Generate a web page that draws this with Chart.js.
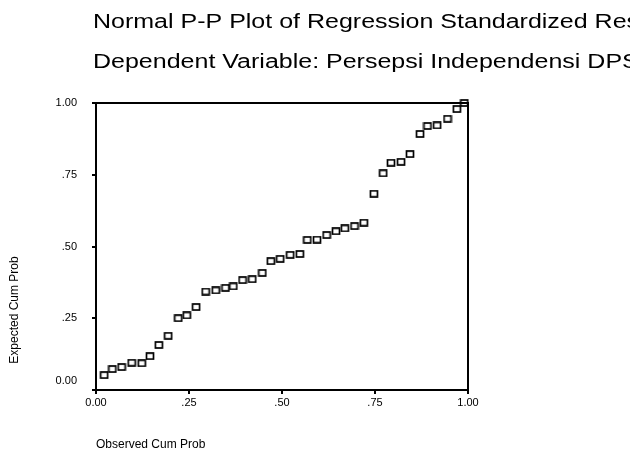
<!DOCTYPE html>
<html>
<head>
<meta charset="utf-8">
<script src="https://cdn.jsdelivr.net/npm/chart.js@4/dist/chart.umd.min.js"></script>
<style>
  html, body { margin: 0; padding: 0; background: #fff; }
  #wrap { width: 630px; height: 455px; position: relative; }
</style>
</head>
<body>
<div id="wrap"><canvas id="c" width="630" height="455"></canvas></div>
<script>
// ---- Data ----
const titleLines = [
  "Normal P-P Plot of Regression Standardized Residual",
  "Dependent Variable: Persepsi Independensi DPS"
];
const xAxisTitle = "Observed Cum Prob";
const yAxisTitle = "Expected Cum Prob";
const tickValues = [0, 0.25, 0.5, 0.75, 1];
const tickLabels = ["0.00", ".25", ".50", ".75", "1.00"];

const observedCumProb = [
  0.022, 0.044, 0.069, 0.096, 0.123, 0.145, 0.169, 0.194, 0.221, 0.244,
  0.269, 0.295, 0.322, 0.348, 0.369, 0.394, 0.420, 0.447, 0.470, 0.495,
  0.522, 0.548, 0.568, 0.594, 0.620, 0.645, 0.669, 0.695, 0.720, 0.747,
  0.772, 0.793, 0.820, 0.844, 0.871, 0.891, 0.917, 0.945, 0.970, 0.990
];
const expectedCumProb = [
  0.052, 0.073, 0.080, 0.095, 0.093, 0.118, 0.157, 0.189, 0.250, 0.260,
  0.289, 0.343, 0.347, 0.356, 0.361, 0.383, 0.386, 0.408, 0.449, 0.457,
  0.471, 0.474, 0.523, 0.524, 0.540, 0.553, 0.563, 0.571, 0.583, 0.684,
  0.755, 0.792, 0.795, 0.822, 0.892, 0.920, 0.922, 0.945, 0.979, 1.000
];

// ---- Hollow rectangle marker ----
function makeMarker() {
  const m = document.createElement('canvas');
  m.width = 10; m.height = 8;
  const g = m.getContext('2d');
  g.strokeStyle = '#000';
  g.lineWidth = 1.7;
  g.strokeRect(1.5, 1, 7, 6);
  return m;
}
const marker = makeMarker();

const points = observedCumProb.map((x, i) => ({ x: x, y: expectedCumProb[i] }));

const FONT = '"Liberation Sans", Arial, Helvetica, sans-serif';

const textPlugin = {
  id: 'texts',
  afterDraw(chart) {
    const ctx = chart.ctx;
    const a = chart.chartArea;
    ctx.save();
    // frame around plot area
    ctx.strokeStyle = '#000';
    ctx.lineWidth = 2;
    ctx.strokeRect(a.left, a.top, a.right - a.left, a.bottom - a.top);
    ctx.fillStyle = '#000';
    // titles (wide scanned font -> horizontally stretched)
    ctx.font = '20px ' + FONT;
    ctx.textAlign = 'left';
    ctx.textBaseline = 'alphabetic';
    const tys = [28, 68];
    titleLines.forEach((t, i) => {
      ctx.save();
      ctx.translate(93, tys[i]);
      ctx.scale(1.25, 1);
      ctx.fillText(t, 0, 0);
      ctx.restore();
    });
    // y-axis "0.00" label, lifted above the axis as in the reference
    ctx.font = '11px ' + FONT;
    ctx.textAlign = 'right';
    ctx.textBaseline = 'middle';
    ctx.fillText(tickLabels[0], a.left - 19, a.bottom - 9);
    // x axis title
    ctx.font = '12px ' + FONT;
    ctx.textAlign = 'left';
    ctx.textBaseline = 'alphabetic';
    ctx.fillText(xAxisTitle, 96, 448);
    // y axis title
    ctx.save();
    ctx.translate(18, 310);
    ctx.rotate(-Math.PI / 2);
    ctx.textAlign = 'center';
    ctx.fillText(yAxisTitle, 0, 0);
    ctx.restore();
    ctx.restore();
  }
};

function fmtX(v) {
  const i = tickValues.findIndex(t => Math.abs(t - v) < 1e-9);
  return i >= 0 ? tickLabels[i] : '';
}
function fmtY(v) {
  const i = tickValues.findIndex(t => Math.abs(t - v) < 1e-9);
  return i > 0 ? tickLabels[i] : '';
}

new Chart(document.getElementById('c'), {
  type: 'scatter',
  data: {
    datasets: [{
      data: points,
      pointStyle: marker,
      pointRadius: 4,
      pointHoverRadius: 4,
      clip: false
    }]
  },
  options: {
    responsive: false,
    animation: false,
    events: [],
    layout: { padding: { top: 103, right: 162, bottom: 0, left: 0 } },
    plugins: { legend: { display: false }, tooltip: { enabled: false }, title: { display: false } },
    scales: {
      x: {
        type: 'linear', min: 0, max: 1,
        afterBuildTicks(scale) { scale.ticks = tickValues.map(v => ({ value: v })); },
        afterFit(scale) { scale.height = 65; },
        ticks: { callback: fmtX, color: '#000', font: { family: FONT, size: 11 }, padding: 2, maxRotation: 0, autoSkip: false },
        grid: { drawOnChartArea: false, drawTicks: true, tickLength: 4, color: '#000', lineWidth: 2 },
        border: { display: true, color: '#000', width: 2 }
      },
      y: {
        type: 'linear', min: 0, max: 1,
        afterBuildTicks(scale) { scale.ticks = tickValues.map(v => ({ value: v })); },
        afterFit(scale) { scale.width = 96; },
        ticks: { callback: fmtY, color: '#000', font: { family: FONT, size: 11 }, padding: 15, autoSkip: false },
        grid: { drawOnChartArea: false, drawTicks: true, tickLength: 4, color: '#000', lineWidth: 2 },
        border: { display: true, color: '#000', width: 2 }
      }
    }
  },
  plugins: [textPlugin]
});
</script>
</body>
</html>
